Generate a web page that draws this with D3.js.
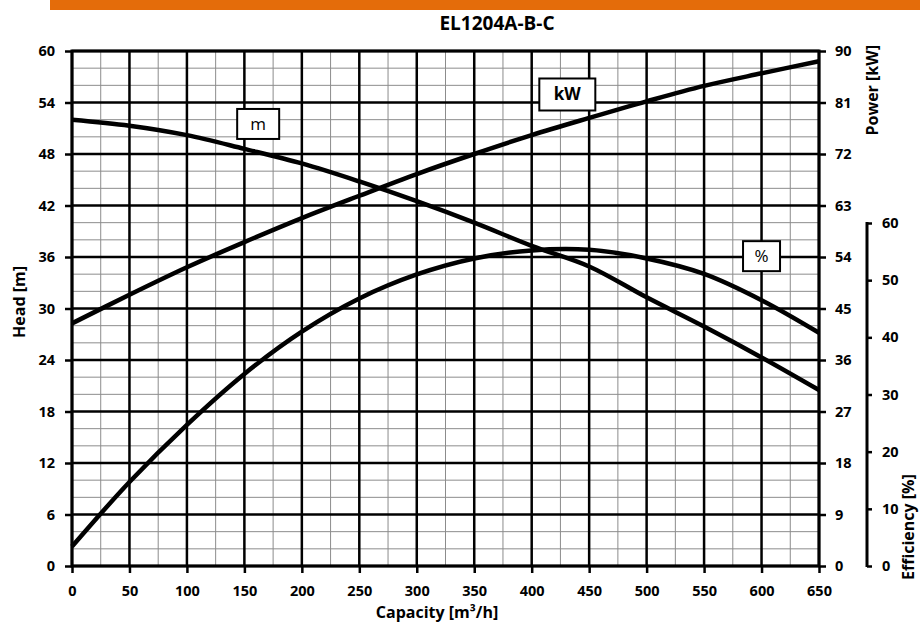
<!DOCTYPE html>
<html>
<head>
<meta charset="utf-8">
<script src="https://cdn.jsdelivr.net/npm/d3@7"></script>
<style>
  body { margin: 0; background: #fff; }
  text { font-family: 'Open Sans', sans-serif; }
</style>
</head>
<body>
<div class="canvas"></div>
<script>
'use strict';

const capacity = [0, 50, 100, 150, 200, 250, 300, 350, 400, 450, 500, 550, 600, 650];
const head = [52.0, 51.3, 50.2, 48.6, 46.9, 44.8, 42.5, 40.0, 37.3, 34.9, 31.3, 27.9, 24.3, 20.5];
const power = [42.4, 47.4, 52.2, 56.6, 60.8, 64.7, 68.5, 72.0, 75.3, 78.3, 81.2, 83.9, 86.1, 88.2];
const efficiency = [3.4, 14.7, 24.7, 33.6, 41.0, 46.8, 51.0, 53.8, 55.2, 55.3, 53.8, 51.1, 46.5, 40.8];

const capTicks = [0, 50, 100, 150, 200, 250, 300, 350, 400, 450, 500, 550, 600, 650];
const headTicks = [0, 6, 12, 18, 24, 30, 36, 42, 48, 54, 60];
const powerTicks = [0, 9, 18, 27, 36, 45, 54, 63, 72, 81, 90];
const effTicks = [0, 10, 20, 30, 40, 50, 60];

const W = 920, H = 626;
const plotL = 72, plotR = 819, plotT = 51, plotB = 566;

const svg = d3.select('.canvas').append('svg').attr('width', W).attr('height', H);

// orange header bar + title
svg.append('rect').attr('x', 50).attr('y', 0).attr('width', 870).attr('height', 10).attr('fill', '#e46c0a');
svg.append('text')
  .attr('x', 497).attr('y', 30)
  .attr('text-anchor', 'middle')
  .style('font-weight', 'bold').style('font-size', '19px')
  .text('EL1204A-B-C');

const x = d3.scaleLinear().domain([0, 650]).range([plotL, plotR]);
const y = d3.scaleLinear().domain([0, 60]).range([plotB, plotT]);
const yP = d3.scaleLinear().domain([0, 90]).range([plotB, plotT]);
const yE = d3.scaleLinear().domain([0, 60]).range([plotB, 223]);

// minor grid
const grid = svg.append('g');
grid.selectAll('.vmin')
  .data(d3.range(0, 651, 25))
  .enter().append('line')
  .attr('x1', d => x(d)).attr('x2', d => x(d))
  .attr('y1', plotT).attr('y2', plotB)
  .attr('stroke', '#8c8c8c').attr('stroke-width', 1);
grid.selectAll('.hmin')
  .data(d3.range(0, 61, 2))
  .enter().append('line')
  .attr('x1', plotL).attr('x2', plotR)
  .attr('y1', d => y(d)).attr('y2', d => y(d))
  .attr('stroke', '#8c8c8c').attr('stroke-width', 1);

// major grid
grid.selectAll('.vmaj')
  .data(capTicks)
  .enter().append('line')
  .attr('x1', d => x(d)).attr('x2', d => x(d))
  .attr('y1', plotT).attr('y2', plotB)
  .attr('stroke', '#000').attr('stroke-width', 2.5);
grid.selectAll('.hmaj')
  .data(headTicks)
  .enter().append('line')
  .attr('x1', plotL).attr('x2', plotR)
  .attr('y1', d => y(d)).attr('y2', d => y(d))
  .attr('stroke', '#000').attr('stroke-width', 2.5);

// axes
const styleAxis = (g, size) => {
  g.select('.domain').remove();
  g.selectAll('.tick line').attr('stroke', '#000').attr('stroke-width', 2.5);
  g.selectAll('.tick text')
    .attr('fill', '#000')
    .style('font-family', "'Open Sans', sans-serif")
    .style('font-weight', 'bold')
    .style('font-size', size);
};

svg.append('g')
  .attr('transform', `translate(0,${plotB})`)
  .call(d3.axisBottom(x).tickValues(capTicks).tickSize(7).tickPadding(13))
  .call(g => styleAxis(g, '14.5px'));

svg.append('g')
  .attr('transform', `translate(${plotL},0)`)
  .call(d3.axisLeft(y).tickValues(headTicks).tickSize(7).tickPadding(10))
  .call(g => styleAxis(g, '14.5px'));

svg.append('g')
  .attr('transform', `translate(${plotR},0)`)
  .call(d3.axisRight(yP).tickValues(powerTicks).tickSize(7).tickPadding(9))
  .call(g => styleAxis(g, '14.5px'));

const effAxis = svg.append('g')
  .attr('transform', 'translate(867,0)')
  .call(d3.axisRight(yE).tickValues(effTicks).tickSize(5).tickPadding(10))
  .call(g => styleAxis(g, '14.5px'));
effAxis.append('line')
  .attr('x1', 0).attr('x2', 0)
  .attr('y1', yE(0) + 1).attr('y2', yE(60) - 1)
  .attr('stroke', '#000').attr('stroke-width', 3);

// frame
svg.append('rect')
  .attr('x', plotL).attr('y', plotT)
  .attr('width', plotR - plotL).attr('height', plotB - plotT)
  .attr('fill', 'none').attr('stroke', '#000').attr('stroke-width', 3);

// axis titles
svg.append('text')
  .attr('x', 437).attr('y', 618)
  .attr('text-anchor', 'middle')
  .style('font-weight', 'bold').style('font-size', '16px')
  .text('Capacity [m³/h]');
svg.append('text')
  .attr('transform', 'translate(25,302) rotate(-90)')
  .attr('text-anchor', 'middle')
  .style('font-weight', 'bold').style('font-size', '16px')
  .text('Head [m]');
svg.append('text')
  .attr('transform', 'translate(878,45) rotate(-90)')
  .attr('text-anchor', 'end')
  .style('font-weight', 'bold').style('font-size', '16px')
  .text('Power [kW]');
svg.append('text')
  .attr('transform', 'translate(914,580) rotate(-90)')
  .attr('text-anchor', 'start')
  .style('font-weight', 'bold').style('font-size', '16px')
  .text('Efficiency [%]');

// curves
const series = [
  { values: head, scale: y },
  { values: power, scale: yP },
  { values: efficiency, scale: yE },
];

series.forEach(s => {
  const line = d3.line()
    .x((d, i) => x(capacity[i]))
    .y(d => s.scale(d))
    .curve(d3.curveCatmullRom.alpha(0.5));
  svg.append('path')
    .datum(s.values)
    .attr('d', line)
    .attr('fill', 'none')
    .attr('stroke', '#000')
    .attr('stroke-width', 4.5)
    .attr('stroke-linejoin', 'round');
});

// curve labels
const labels = [
  { text: 'm', q: 162, v: 51.5, scale: y, w: 42, h: 30, weight: 'normal' },
  { text: 'kW', q: 431, v: 82.4, scale: yP, w: 56, h: 32, weight: 'bold' },
  { text: '%', q: 600, v: 54.2, scale: yE, w: 37, h: 30, weight: 'normal' },
];

labels.forEach(l => {
  const cx = x(l.q), cy = l.scale(l.v);
  svg.append('rect')
    .attr('x', cx - l.w / 2).attr('y', cy - l.h / 2)
    .attr('width', l.w).attr('height', l.h)
    .attr('fill', '#fff').attr('stroke', '#000').attr('stroke-width', 2);
  svg.append('text')
    .attr('x', cx).attr('y', cy)
    .attr('dy', '0.35em')
    .attr('text-anchor', 'middle')
    .style('font-size', '17px').style('font-weight', l.weight)
    .text(l.text);
});
</script>
</body>
</html>
